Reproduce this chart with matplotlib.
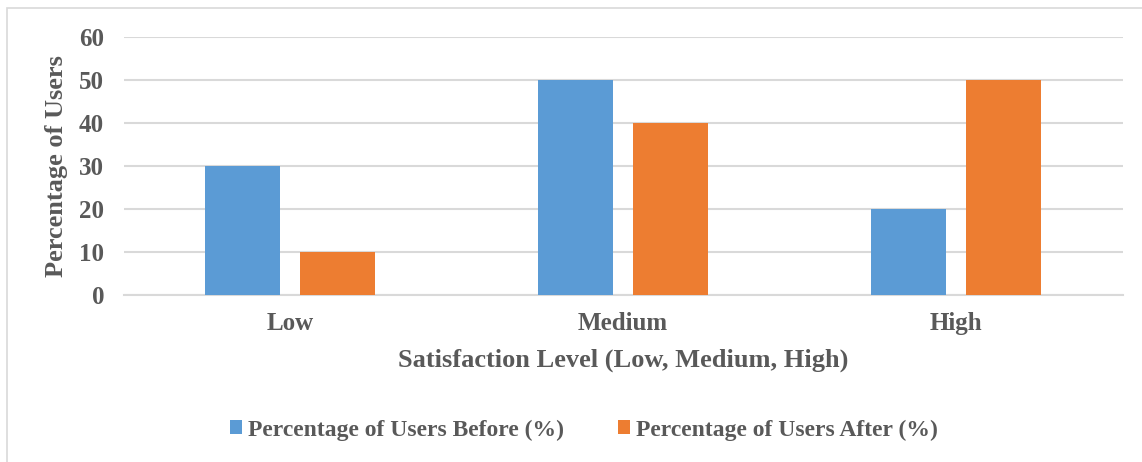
import matplotlib
matplotlib.use("Agg")
import matplotlib.pyplot as plt
import numpy as np
from matplotlib.patches import Rectangle

levels = ["Low", "Medium", "High"]
before_pct = [30, 50, 20]
after_pct = [10, 40, 50]
series_names = ["Percentage of Users Before (%)", "Percentage of Users After (%)"]
y_ticks = [0, 10, 20, 30, 40, 50, 60]

BLUE = "#5B9BD5"
ORANGE = "#ED7D31"
GREY_TEXT = "#595959"
GRID = "#D9D9D9"

plt.rcParams["font.family"] = ["Liberation Serif", "DejaVu Serif"]
plt.rcParams["font.weight"] = "bold"

W, H = 1142, 462
fig = plt.figure(figsize=(W / 100, H / 100), dpi=100)
ax = fig.add_axes([123.5 / W, 1 - 295 / H, 999 / W, 258 / H])

# outer chart frame (right and bottom edges fall off the canvas)
fig.patches.append(Rectangle((7 / W, -0.1), 1.2, 1 - 8 / H + 0.1,
                             transform=fig.transFigure, fill=False,
                             edgecolor=GRID, linewidth=1.2))

x = np.arange(len(levels))
width = 0.225
offset = 0.1426
ax.bar(x - offset, before_pct, width, color=BLUE, label=series_names[0], zorder=3)
ax.bar(x + offset, after_pct, width, color=ORANGE, label=series_names[1], zorder=3)

ax.set_xlim(-0.5, len(levels) - 0.5)
ax.set_ylim(0, 60)
ax.set_yticks(y_ticks)
ax.set_xticks(x)
ax.set_xticklabels(levels)
ax.yaxis.grid(True, color=GRID, linewidth=1.5, zorder=0)
ax.set_axisbelow(True)

for side in ["top", "right", "left"]:
    ax.spines[side].set_visible(False)
ax.spines["bottom"].set_color(GRID)
ax.spines["bottom"].set_linewidth(1.5)
ax.tick_params(axis="both", length=0, labelsize=18, labelcolor=GREY_TEXT)
ax.tick_params(axis="y", pad=14)
ax.tick_params(axis="x", pad=12)

ax.set_xlabel("Satisfaction Level (Low, Medium, High)", fontsize=19,
              color=GREY_TEXT, fontweight="bold", labelpad=10)
ax.set_ylabel("Percentage of Users", fontsize=19, color=GREY_TEXT,
              fontweight="bold", labelpad=8)

leg = fig.legend(loc="center", bbox_to_anchor=(584 / W, 1 - 430 / H), ncol=2,
                 frameon=False, fontsize=17, handlelength=0.5, handleheight=0.5,
                 handletextpad=0.25, columnspacing=2.3)
for t in leg.get_texts():
    t.set_color(GREY_TEXT)

fig.savefig("out.png", dpi=100)
